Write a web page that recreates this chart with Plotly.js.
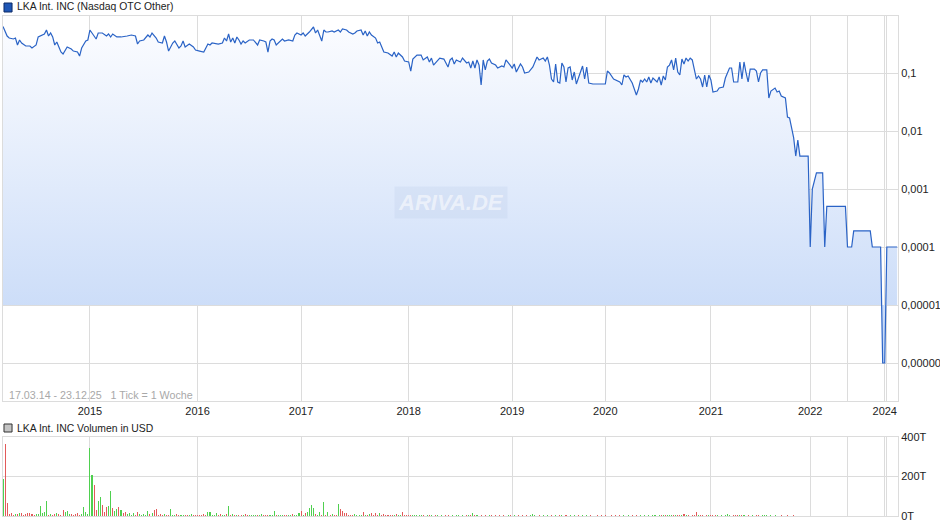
<!DOCTYPE html>
<html><head><meta charset="utf-8">
<script src="https://cdn.plot.ly/plotly-3.0.1.min.js"></script>
<style>html,body{margin:0;padding:0;background:#fff;} #chart{width:940px;height:526px;}</style>
</head><body><div id="chart"></div>
<script>
// weekly tick number of each price reading (ticks with no trades are skipped on the axis)
const priceTicks = [0,2,3,5,6,7,8,9,11,13,14,16,17,19,20,21,22,23,24,25,26,27,28,29,30,31,33,34,36,37,38,40,41,42,43,45,46,48,50,51,52,53,55,57,60,62,64,65,66,68,70,71,72,74,75,77,78,79,80,82,83,84,85,86,87,88,90,92,93,95,97,99,100,101,104,106,107,108,109,110,111,112,113,114,115,116,117,119,121,123,124,126,127,128,129,130,131,132,133,135,136,138,140,141,142,144,145,146,148,149,150,151,152,154,155,156,157,159,160,162,163,164,166,167,169,170,171,173,174,175,176,177,178,180,181,182,183,184,186,188,189,190,191,193,194,196,197,198,200,202,203,205,206,207,208,210,211,213,214,215,216,217,218,219,221,222,224,225,226,227,228,229,230,231,232,233,234,235,236,238,239,241,242,243,245,246,247,248,250,251,252,254,256,257,258,259,261,262,263,264,265,266,267,268,269,270,271,272,273,274,275,276,277,279,280,281,282,283,285,287,291,292,293,295,296,298,299,300,301,302,304,305,306,307,308,309,310,311,312,313,314,316,317,318,319,320,321,322,323,324,325,326,327,328,329,330,331,332,333,335,336,337,338,339,340,341,342,343,345,346,348,349,351,352,353,355,356,357,358,359,360,361,363,364,365,366,367,369,370,371,373,374,375,376,378,379,380,382,383,384,385,389,390,391,393,396,397,398,407,408,410,411,419,420,424,425,426,427,432];
const priceValues = [0.634,0.434,0.401,0.386,0.401,0.304,0.371,0.329,0.292,0.292,0.270,0.304,0.418,0.452,0.470,0.551,0.434,0.489,0.418,0.304,0.342,0.281,0.230,0.213,0.249,0.281,0.259,0.239,0.230,0.196,0.270,0.356,0.371,0.551,0.489,0.386,0.489,0.489,0.434,0.470,0.418,0.470,0.418,0.418,0.434,0.452,0.434,0.316,0.356,0.371,0.452,0.418,0.489,0.401,0.342,0.329,0.434,0.342,0.239,0.329,0.356,0.304,0.270,0.292,0.356,0.281,0.316,0.281,0.249,0.239,0.230,0.316,0.304,0.329,0.316,0.329,0.401,0.356,0.470,0.342,0.401,0.329,0.418,0.371,0.316,0.356,0.329,0.371,0.371,0.304,0.371,0.356,0.342,0.230,0.356,0.386,0.371,0.304,0.329,0.386,0.356,0.371,0.356,0.452,0.489,0.452,0.489,0.434,0.509,0.551,0.621,0.489,0.551,0.356,0.551,0.509,0.509,0.530,0.509,0.551,0.509,0.574,0.551,0.509,0.470,0.489,0.530,0.551,0.452,0.530,0.434,0.509,0.452,0.401,0.329,0.342,0.270,0.230,0.221,0.196,0.230,0.189,0.221,0.189,0.161,0.155,0.108,0.174,0.204,0.204,0.168,0.189,0.155,0.181,0.137,0.168,0.181,0.174,0.149,0.127,0.168,0.181,0.143,0.168,0.155,0.181,0.149,0.155,0.122,0.161,0.122,0.168,0.137,0.0621,0.168,0.113,0.161,0.174,0.149,0.137,0.122,0.132,0.127,0.168,0.137,0.122,0.143,0.104,0.143,0.127,0.100,0.104,0.127,0.155,0.189,0.168,0.181,0.161,0.189,0.137,0.0788,0.0700,0.143,0.0700,0.0673,0.149,0.127,0.0700,0.122,0.127,0.0757,0.104,0.0646,0.104,0.132,0.0788,0.127,0.0673,0.0646,0.0646,0.0646,0.108,0.100,0.0788,0.0757,0.0700,0.0621,0.0924,0.0853,0.0888,0.0673,0.0509,0.0418,0.0530,0.0757,0.0700,0.0788,0.0700,0.0853,0.0673,0.0820,0.0700,0.0853,0.0621,0.0888,0.0757,0.127,0.137,0.168,0.113,0.181,0.104,0.0924,0.174,0.143,0.181,0.161,0.181,0.168,0.0788,0.0888,0.0788,0.0574,0.0924,0.0574,0.0924,0.0757,0.0470,0.0489,0.0551,0.0574,0.0820,0.122,0.122,0.0700,0.0700,0.155,0.0788,0.155,0.100,0.0700,0.117,0.117,0.108,0.0700,0.100,0.113,0.113,0.0371,0.0489,0.0551,0.0470,0.0489,0.0401,0.0371,0.0174,0.0168,0.0076,0.0037,0.0070,0.0037,0.0037,0.0001,0.001,0.0019,0.0019,0.0001,0.0005,0.0005,0.0001,0.0001,0.00019,0.00019,0.0001,0.0001,0.000001,0.000001,0.0001,0.0001];
// weekly volume in thousand USD, one value per tick 0..431
const volumeK = [
189,364,66,8,13,6,10,8,13,17,5,10,17,15,8,5,12,8,51,13,20,78,6,9,
5,12,15,8,6,30,20,27,8,12,5,10,13,6,10,44,20,10,344,208,157,32,78,96,
56,20,44,52,127,39,27,37,46,30,17,20,8,13,6,17,5,20,8,6,10,4,25,8,
17,30,35,6,8,5,10,4,6,35,5,3,8,4,6,3,5,4,6,8,5,3,4,6,
5,8,4,20,18,6,4,13,5,8,4,6,8,51,5,8,4,6,3,4,5,8,6,3,
4,5,6,3,4,8,5,4,6,3,4,25,5,3,4,6,5,4,3,6,8,5,4,17,
27,6,17,22,42,56,40,8,6,18,5,71,6,22,5,8,6,4,61,37,25,17,13,5,
4,6,8,5,3,6,20,5,4,8,13,6,13,5,17,6,8,5,4,6,3,5,8,6,
4,18,6,5,3,4,6,4,3,5,3,4,2,3,4,3,2,4,3,2,3,2,4,3,
2,3,2,4,3,2,3,2,3,4,3,13,4,3,2,3,2,3,2,4,3,2,3,2,
3,2,3,2,4,3,2,3,2,3,2,3,2,3,2,3,10,3,2,3,2,3,2,3,
2,3,2,3,2,4,3,2,3,2,3,2,3,2,3,2,3,2,3,2,3,2,2,3,
2,3,2,3,2,2,3,2,3,2,3,2,3,2,3,2,3,2,3,2,3,2,3,2,
3,2,4,3,2,3,5,4,5,4,6,3,5,4,3,4,6,10,4,3,2,3,4,20,
5,3,4,2,3,3,3,4,3,3,2,3,2,3,8,3,2,3,4,5,3,4,3,2,
3,2,3,2,4,3,2,3,5,3,2,3,2,3,2,2,3,2,2,3,2,2,3,2,
2,1,2,1,2,1,1,2,1,1,2,1,1,2,1,1,1,2,1,1,1,2,1,1,
1,1,2,1,1,1,2,1,1,1,1,2,1,1,1,1,2,1,1,1,2,1,1,1];
// up (g) / down (r) colour of the larger volume bars
const volDirTicks = [0,1,2,18,21,29,30,31,39,40,42,43,44,45,46,47,48,49,50,51,52,53,54,55,56,57,69,73,74,81,99,100,109,131,143,144,146,147,148,149,150,155,157,162,163,164,165,166,335];
const volDirFlags = ['g','r','r','g','g','r','g','g','g','g','g','g','r','r','g','g','r','r','r','g','g','r','g','g','r','g','g','r','r','g','g','g','g','g','g','r','r','g','g','g','g','g','g','g','r','r','r','r','r'];
const yearTickPos = [42,94,144,196,246,291,342,390,408,426,427];
const yearTickText = ['2015','2016','2017','2018','2019','2020','2021','2022','','2024',''];
const priceTickVals = [0.1,0.01,0.001,0.0001,0.00001,0.000001];
const priceTickText = ['0,1','0,01','0,001','0,0001','0,00001','0,000001'];
const volTickVals = [0,200000,400000];
const volTickText = ['0T','200T','400T'];
const fillBase = 0.00001;
const lastTick = 432;

const UP = '#4fd04f', DOWN = '#e25a5a';
// default bar colour follows the price direction, read colours override it
const held = []; let k = 0; let cur = priceValues[0];
for (let t = 0; t < volumeK.length; t++) {
  while (k < priceTicks.length && priceTicks[k] <= t) { cur = priceValues[k]; k++; }
  held.push(cur);
}
let dir = 1;
const volColors = held.map((p, t) => {
  if (t > 0) { if (p > held[t-1]) dir = 1; else if (p < held[t-1]) dir = -1; }
  return dir > 0 ? UP : DOWN;
});
volDirTicks.forEach((t, i) => { volColors[t] = volDirFlags[i] === 'g' ? UP : DOWN; });
const volTicks = volumeK.map((_, i) => i);
const volValues = volumeK.map(v => v * 1000);

const GRID = '#dcdcdc';
const FONT = '"Liberation Sans", Arial, Helvetica, sans-serif';

const traces = [
  {x: [0, lastTick], y: [fillBase, fillBase], type: 'scatter', mode: 'lines',
   line: {width: 0, color: 'rgba(0,0,0,0)'}, hoverinfo: 'skip', xaxis: 'x', yaxis: 'y'},
  {x: priceTicks, y: priceValues, type: 'scatter', mode: 'lines', fill: 'tonexty',
   fillgradient: {type: 'vertical', colorscale: [[0, '#c3d7f7'], [1, '#fbfcff']]},
   line: {color: '#2a63c6', width: 1.2}, xaxis: 'x', yaxis: 'y'},
  {x: volTicks, y: volValues, type: 'bar', width: 0.5,
   marker: {color: volColors, line: {width: 0}}, xaxis: 'x2', yaxis: 'y2'}
];

const layout = {
  width: 940, height: 526,
  margin: {l: 3, r: 42, t: 16, b: 10},
  paper_bgcolor: '#ffffff', plot_bgcolor: 'rgba(0,0,0,0)',
  showlegend: false,
  font: {family: FONT, size: 11, color: '#222'},
  xaxis: {domain: [0, 1], anchor: 'y', range: [0, 432.4], tickmode: 'array',
    tickvals: yearTickPos, ticktext: yearTickText, showgrid: true, gridcolor: GRID,
    showline: true, mirror: true, linecolor: GRID, ticks: '', zeroline: false,
    tickfont: {size: 11, color: '#222'}},
  yaxis: {domain: [0.23, 1], anchor: 'x', type: 'log', range: [-6.655, -0.0172], side: 'right',
    tickmode: 'array', tickvals: priceTickVals, ticktext: priceTickText,
    showgrid: true, gridcolor: GRID, showline: true, mirror: true, linecolor: GRID,
    ticks: '', zeroline: false, tickfont: {size: 11, color: '#222'}},
  xaxis2: {domain: [0, 1], anchor: 'y2', matches: 'x', range: [0, 432.4], tickmode: 'array',
    tickvals: yearTickPos, showticklabels: false, showgrid: true, gridcolor: GRID,
    showline: true, mirror: true, linecolor: GRID, ticks: '', zeroline: false},
  yaxis2: {domain: [0, 0.158], anchor: 'x2', range: [0, 400000], side: 'right',
    tickmode: 'array', tickvals: volTickVals, ticktext: volTickText,
    showgrid: true, gridcolor: GRID, showline: true, mirror: true, linecolor: GRID,
    ticks: '', zeroline: false, tickfont: {size: 11, color: '#222'}},
  bargap: 0,
  shapes: [
    {type: 'rect', xref: 'paper', yref: 'paper', x0: 0.0011, x1: 0.0101, y0: 1.008, y1: 1.026,
     fillcolor: '#1f56b5', line: {color: '#0d2a66', width: 1}},
    {type: 'rect', xref: 'paper', yref: 'paper', x0: 0.0011, x1: 0.0101, y0: 0.168, y1: 0.184,
     fillcolor: '#c4c4c4', line: {color: '#333', width: 1}}
  ],
  annotations: [
    {text: 'LKA Int. INC (Nasdaq OTC Other)', xref: 'paper', yref: 'paper', x: 0.0134, y: 1.018,
     xanchor: 'left', yanchor: 'middle', showarrow: false, font: {size: 10.4, color: '#222'}},
    {text: 'LKA Int. INC Volumen in USD', xref: 'paper', yref: 'paper', x: 0.0134, y: 0.176,
     xanchor: 'left', yanchor: 'middle', showarrow: false, font: {size: 10.4, color: '#222'}},
    {text: '17.03.14 - 23.12.25\u00a0\u00a0\u00a01 Tick = 1 Woche', xref: 'paper', yref: 'paper', x: 0.0045, y: 0.242,
     xanchor: 'left', yanchor: 'middle', showarrow: false, font: {size: 10.7, color: '#a8a8a8'}},
    {text: 'ARIVA.DE', xref: 'paper', yref: 'paper', x: 0.5006, y: 0.628,
     xanchor: 'center', yanchor: 'middle', showarrow: false,
     font: {size: 22, color: 'rgba(255,255,255,0.55)', style: 'italic', weight: 'bold'},
     bgcolor: 'rgba(150,175,215,0.12)', borderpad: 3}
  ]
};

Plotly.newPlot('chart', traces, layout, {staticPlot: true, displayModeBar: false});
</script>
</body></html>
